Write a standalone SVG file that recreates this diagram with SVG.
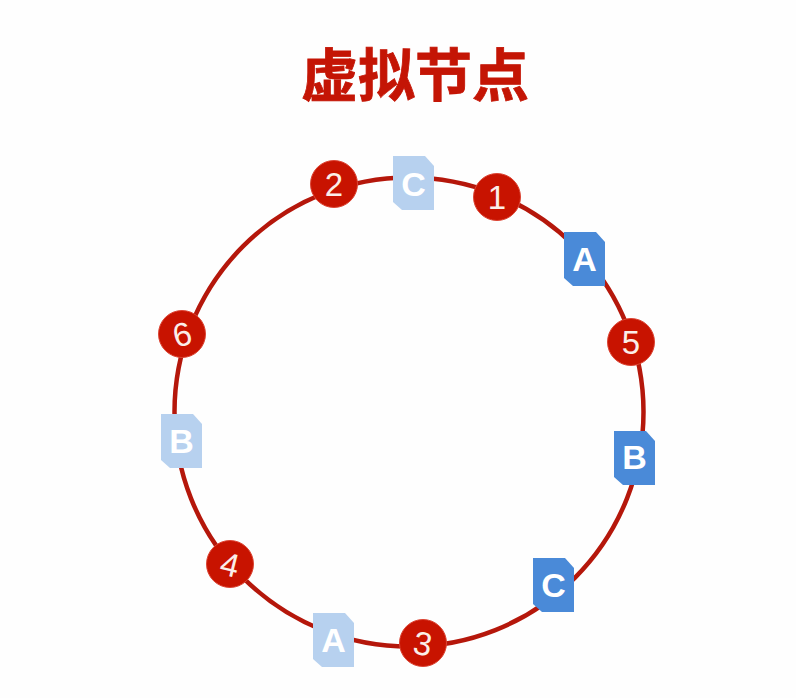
<svg xmlns="http://www.w3.org/2000/svg" width="796" height="698" viewBox="0 0 796 698">
<style>
.title{font:700 57px "Noto Sans CJK SC","Noto Sans CJK TC",sans-serif;fill:#c41505;stroke:#c41505;stroke-width:.8;text-anchor:middle}
.num{fill:#c81300;stroke:#dc4534;stroke-width:1}
.numt{font:400 33px "Liberation Sans",sans-serif;fill:#fbeee9;text-anchor:middle}
.dark{fill:#4a8ad8}
.light{fill:#b7d1ef}
.let{font:700 34px "Liberation Sans",sans-serif;fill:#fff;text-anchor:middle}
.ring{fill:none;stroke:#b5170b;stroke-width:4.500}
</style>
<defs><path id="doc" d="M0 0H32L41 10V54H9L0 46Z"/></defs>
<rect width="796" height="698" fill="#fefefe"/>
<g id="title"><text class="title" x="415" y="96">虚拟节点</text></g>
<g id="connectors"><circle class="ring" cx="409" cy="412" r="234.5"/></g>
<g id="node-1"><circle class="num" cx="497" cy="197" r="23.5"/><text class="numt" x="497" y="209">1</text></g>
<g id="node-2"><circle class="num" cx="334" cy="184" r="23.5"/><text class="numt" x="334" y="196">2</text></g>
<g id="node-3"><circle class="num" cx="423" cy="643" r="23.5"/><text class="numt" transform="rotate(10 423 643)" x="423" y="655">3</text></g>
<g id="node-4"><circle class="num" cx="230" cy="564" r="23.5"/><text class="numt" transform="rotate(14 230 564)" x="230" y="576">4</text></g>
<g id="node-5"><circle class="num" cx="631" cy="342" r="23.5"/><text class="numt" x="631" y="354">5</text></g>
<g id="node-6"><circle class="num" cx="182" cy="334" r="23.5"/><text class="numt" transform="rotate(-14 182 334)" x="182" y="346">6</text></g>
<g id="doc-a-dark"><use href="#doc" class="dark" x="564" y="232"/><text class="let" x="584.500" y="271">A</text></g>
<g id="doc-b-dark"><use href="#doc" class="dark" x="614" y="431"/><text class="let" x="634.500" y="469">B</text></g>
<g id="doc-c-dark"><use href="#doc" class="dark" x="533" y="558"/><text class="let" x="553.500" y="597">C</text></g>
<g id="doc-c-light"><use href="#doc" class="light" x="393" y="156"/><text class="let" x="413.500" y="196">C</text></g>
<g id="doc-b-light"><use href="#doc" class="light" x="161" y="414"/><text class="let" x="181.500" y="453">B</text></g>
<g id="doc-a-light"><use href="#doc" class="light" x="313" y="613"/><text class="let" x="333.500" y="652">A</text></g>
</svg>
